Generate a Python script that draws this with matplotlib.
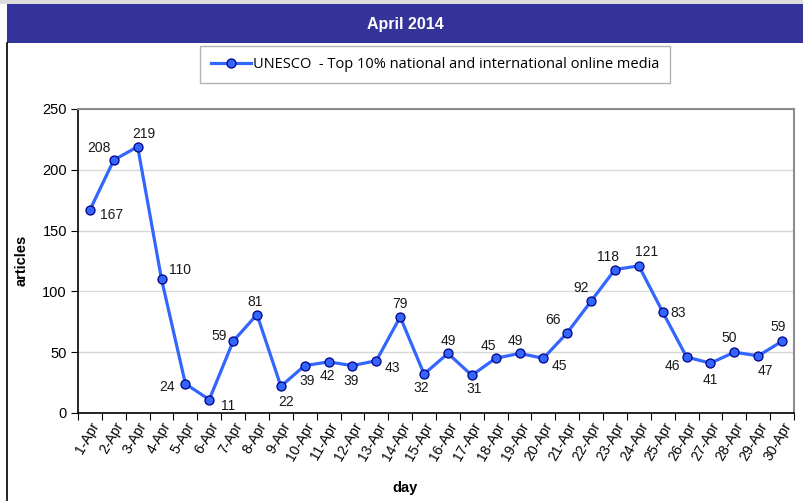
import matplotlib
matplotlib.use("Agg")
import matplotlib.pyplot as plt
from matplotlib.patches import Rectangle
from matplotlib.lines import Line2D
import numpy as np

# --- data ---
days = [f"{d}-Apr" for d in range(1, 31)]
articles = [167, 208, 219, 110, 24, 11, 59, 81, 22, 39,
            42, 39, 43, 79, 32, 49, 31, 45, 49, 45,
            66, 92, 118, 121, 83, 46, 41, 50, 47, 59]
series_name = "UNESCO  - Top 10% national and international online media"
period = "April 2014"

# label offsets in pixels (dx, dy), picked to match the original placement
label_offsets = [(22, -5), (-15, 12), (6, 13), (18, 9), (-18, -3), (19, -6),
                 (-14, 5), (-2, 13), (5, -16), (2, -15), (-1, -14), (-1, -15),
                 (16, -7), (0, 13), (-3, -14), (0, 12), (2, -14), (-7, 12),
                 (-4, 12), (16, -8), (-14, 13), (-10, 13), (-7, 13), (8, 14),
                 (15, -1), (-14, -9), (0, -17), (-5, 14), (7, -15), (-4, 14)]

W, H = 804, 501
plt.rcParams['font.family'] = ['Liberation Sans', 'DejaVu Sans']

fig = plt.figure(figsize=(W / 100, H / 100), dpi=100)
fig.patch.set_facecolor('white')

# header: grey strip + blue band, left frame line
fig.patches.append(Rectangle((0, 1 - 4 / H), 1, 4 / H, transform=fig.transFigure,
                             facecolor='#dcdcdc', edgecolor='none', zorder=0))
fig.patches.append(Rectangle((7 / W, 1 - 43 / H), 1 - 7 / W, 39 / H, transform=fig.transFigure,
                             facecolor='#333399', edgecolor='none', zorder=0))
fig.lines.append(Line2D([7.5 / W, 7.5 / W], [0, 1 - 43 / H], transform=fig.transFigure,
                        color='black', linewidth=1.2))
fig.text((7 + W) / 2 / W, 1 - 24 / H, period, color='white', fontsize=11.5,
         fontweight='bold', ha='center', va='center',
         family=['Liberation Sans Narrow', 'Liberation Sans'])

# --- axes ---
ax = fig.add_axes([78 / W, 1 - 413 / H, (794 - 78) / W, (413 - 109) / H])
x = np.arange(len(days))
line, = ax.plot(x, articles, color='#3366ff', linewidth=2.3, marker='o',
                markersize=6.5, markerfacecolor='#3366ff', markeredgecolor='#000080',
                markeredgewidth=0.9, label=series_name, zorder=3)

for xi, yi, (dx, dy) in zip(x, articles, label_offsets):
    ax.annotate(str(yi), (xi, yi), xytext=(dx, dy), textcoords='offset pixels',
                ha='center', va='center', fontsize=10, color='#1a1a1a')

ax.set_xlim(-0.5, len(days) - 0.5)
ax.set_ylim(0, 250)
ax.set_yticks(np.arange(0, 251, 50))
ax.yaxis.grid(True, color='#d9d9d9', linewidth=1)
ax.set_axisbelow(True)

ax.set_xticks(np.arange(-0.5, len(days), 1))
ax.set_xticklabels([])
ax.set_xticks(x, minor=True)
ax.set_xticklabels(days, minor=True, rotation=60, ha='right', va='top',
                   rotation_mode='anchor', fontsize=10)
ax.tick_params(axis='x', which='minor', length=0, pad=5)
ax.tick_params(axis='x', which='major', length=5, direction='out', color='black')
ax.tick_params(axis='y', length=5, direction='out', labelsize=10.5, pad=3)

for side in ['left', 'bottom']:
    ax.spines[side].set_color('black')
    ax.spines[side].set_linewidth(1.2)
for side in ['top', 'right']:
    ax.spines[side].set_color('#8c8c8c')
    ax.spines[side].set_linewidth(1.5)

fig.text(22 / W, 1 - 260 / H, 'articles', rotation=90, ha='center', va='center',
         fontsize=10.5, fontweight='bold')
fig.text(405 / W, 1 - 488 / H, 'day', ha='center', va='center',
         fontsize=10.5, fontweight='bold')

leg = fig.legend(handles=[line], loc='center',
                 bbox_to_anchor=((189 + 681) / 2 / W, 1 - 64.5 / H),
                 frameon=True, fancybox=False, edgecolor='#a0a0a0',
                 prop={'family': ['Open Sans', 'DejaVu Sans'], 'size': 10.5},
                 handlelength=2.8, handletextpad=0.1, borderpad=0.75,
                 borderaxespad=0)
leg.get_frame().set_linewidth(1)

fig.savefig('out.png', dpi=100)
